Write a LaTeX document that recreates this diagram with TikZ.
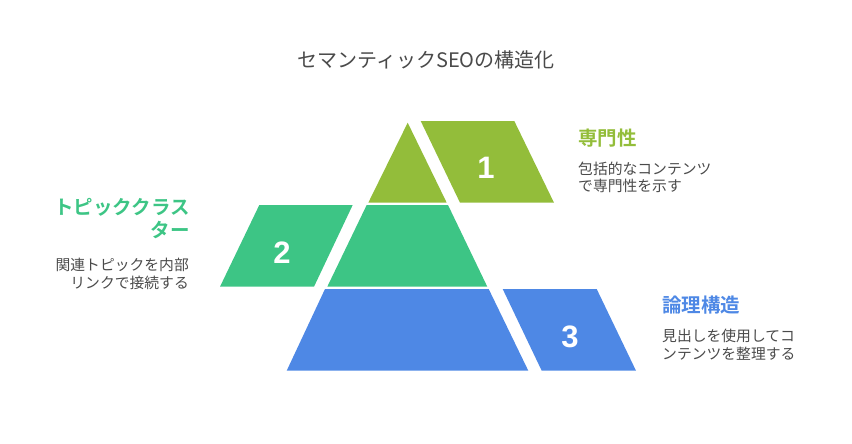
\documentclass[tikz,border=0pt]{standalone}
\usepackage{fontspec}
\setmainfont{Noto Sans CJK JP}
\newfontfamily\cjkb{Noto Sans CJK JP Bold}
\newfontfamily\numf{Liberation Sans}
\definecolor{cA}{HTML}{93BD3A}
\definecolor{cB}{HTML}{3DC585}
\definecolor{cC}{HTML}{4E88E5}
\definecolor{tx}{HTML}{4A4A4A}
\begin{document}
\begin{tikzpicture}[x=1pt,y=-1pt,
  num/.style={text=white,font=\numf\bfseries\fontsize{31}{31}\selectfont,inner sep=0pt},
  head/.style={font=\cjkb\fontsize{19.5}{23}\selectfont,inner sep=0pt},
  body/.style={text=tx,font=\fontsize{14.8}{17.5}\selectfont,inner sep=0pt}]
\useasboundingbox (0,0) rectangle (852,444);
% pyramid
\fill[cA] (407.7,122.7) -- (446.7,202.7) -- (368.3,202.7) -- cycle;
\fill[cA] (420.7,121) -- (514.3,121) -- (554,202.7) -- (460,202.7) -- cycle;
\fill[cB] (366.7,205) -- (448,205) -- (487.3,286.7) -- (327.3,286.7) -- cycle;
\fill[cB] (259.3,205) -- (352.7,205) -- (314,286.7) -- (220,286.7) -- cycle;
\fill[cC] (325,289) -- (488.7,289) -- (528.3,370.7) -- (286.7,370.7) -- cycle;
\fill[cC] (502.7,289) -- (596.7,289) -- (636,370.7) -- (541.7,370.7) -- cycle;
\node[num] (n1) at (486,168) {1};
\node[num] (n2) at (282,253) {2};
\node[num] (n3) at (570,337) {3};
% title
\node[text=tx,font=\fontsize{20}{24}\selectfont,inner sep=0pt] (title) at (426,60) {セマンティックSEOの構造化};
% labels
\node[head,text=cA,anchor=west] (h1) at (578,138) {専門性};
\node[body,anchor=north west,align=left] (b1) at (578,161.5) {包括的なコンテンツ\\で専門性を示す};
\node[head,text=cB,anchor=north east,align=right] (h2) at (190,198) {トピッククラス\\ター};
\node[body,anchor=north east,align=right] (b2) at (189,258) {関連トピックを内部\\リンクで接続する};
\node[head,text=cC,anchor=west] (h3) at (662,305) {論理構造};
\node[body,anchor=north west,align=left] (b3) at (662,329) {見出しを使用してコ\\ンテンツを整理する};
\end{tikzpicture}
\end{document}
